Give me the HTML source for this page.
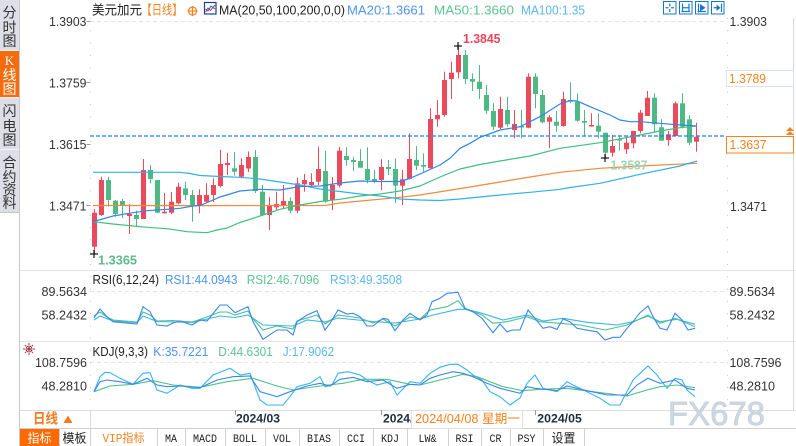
<!DOCTYPE html>
<html><head><meta charset="utf-8"><style>
html,body{margin:0;padding:0;background:#fff;width:796px;height:446px;overflow:hidden}
svg{position:absolute;left:0;top:0}
</style></head><body>
<svg width="796" height="446" viewBox="0 0 796 446" font-family="Liberation Sans, Noto Sans CJK SC, sans-serif">
<rect x="0" y="0" width="796" height="446" fill="#fff"/>
<!-- sidebar -->
<rect x="0" y="0" width="19" height="212" fill="#dedee6"/>
<rect x="0" y="51" width="19" height="46" fill="#f76b0b"/>
<line x1="0" y1="50.5" x2="19" y2="50.5" stroke="#f2f2f6"/>
<line x1="0" y1="97.5" x2="19" y2="97.5" stroke="#f2f2f6"/>
<line x1="0" y1="149.5" x2="19" y2="149.5" stroke="#f2f2f6"/>
<line x1="0" y1="212.5" x2="19" y2="212.5" stroke="#c8c8cc"/>
<line x1="19.5" y1="0" x2="19.5" y2="446" stroke="#c8c8cc"/>
<g font-size="14" fill="#333" text-anchor="middle" font-family="Noto Sans CJK SC, sans-serif">
<text x="9.5" y="17.5">分</text><text x="9.5" y="32.5">时</text><text x="9.5" y="46">图</text>
<text x="9.5" y="65" fill="#fff" font-family="Liberation Serif, serif" font-size="13">K</text><text x="9.5" y="80" fill="#fff">线</text><text x="9.5" y="94" fill="#fff">图</text>
<text x="9.5" y="116">闪</text><text x="9.5" y="131">电</text><text x="9.5" y="145">图</text>
<text x="9.5" y="167.5">合</text><text x="9.5" y="182">约</text><text x="9.5" y="195">资</text><text x="9.5" y="208">料</text>
</g>
<!-- header -->
<g font-size="13">
<text x="92" y="14.5" fill="#222" textLength="50" lengthAdjust="spacingAndGlyphs">美元加元</text>
<text x="141.5" y="14.5" fill="#f5821f" textLength="41" lengthAdjust="spacingAndGlyphs">【日线】</text>
<text x="219" y="14.5" fill="#222" textLength="126" lengthAdjust="spacingAndGlyphs">MA(20,50,100,200,0,0)</text>
<text x="347" y="14.5" fill="#4b95ee" textLength="78" lengthAdjust="spacingAndGlyphs">MA20:1.3661</text>
<text x="434" y="14.5" fill="#5cc493" textLength="80" lengthAdjust="spacingAndGlyphs">MA50:1.3660</text>
<text x="521" y="14.5" fill="#5ab8ec" textLength="64" lengthAdjust="spacingAndGlyphs">MA100:1.35</text>
</g>
<circle cx="192.5" cy="11" r="4" fill="none" stroke="#f5821f" stroke-width="1.2"/>
<line x1="187.5" y1="11" x2="197.5" y2="11" stroke="#f5821f" stroke-width="1.1"/>
<line x1="192.5" y1="6" x2="192.5" y2="16" stroke="#f5821f" stroke-width="1.1"/>
<rect x="204.5" y="2.5" width="11.5" height="11.5" fill="#fff" stroke="#1c3f94" stroke-width="1.2"/>
<polyline points="205.5,12 208,8 210.5,10.5 215,5" fill="none" stroke="#e33" stroke-width="1"/>
<polyline points="205.5,9 208,11 211,6 215,9" fill="none" stroke="#2a5fd0" stroke-width="1"/>
<!-- top right icons -->
<g fill="#fff" stroke="#1976c8" stroke-width="1">
<rect x="663.5" y="1.5" width="12.5" height="12.5"/><rect x="679.5" y="1.5" width="12.5" height="12.5"/>
<rect x="695.5" y="1.5" width="12.5" height="12.5"/><rect x="711.5" y="1.5" width="12.5" height="12.5"/>
</g>
<g stroke="#1976c8" stroke-width="1.2" fill="none">
<line x1="665.5" y1="7.75" x2="668.5" y2="7.75"/><line x1="671" y1="7.75" x2="674" y2="7.75"/>
<line x1="669.75" y1="3.5" x2="669.75" y2="6.5"/><line x1="669.75" y1="9" x2="669.75" y2="12"/>
<line x1="682.5" y1="3.5" x2="682.5" y2="12"/><line x1="689" y1="3.5" x2="689" y2="12"/><line x1="682.5" y1="7.75" x2="689" y2="7.75"/><line x1="681.5" y1="11.5" x2="690" y2="11.5"/>
<line x1="698.5" y1="3.5" x2="698.5" y2="12.5"/><line x1="697.5" y1="11.5" x2="706" y2="11.5"/>
<line x1="721.5" y1="3.5" x2="721.5" y2="12"/><line x1="713.5" y1="7.75" x2="717" y2="7.75"/>
</g>
<polygon points="700,4 705.5,7.75 700,11.5" fill="#1976c8"/>
<polygon points="716.5,4.5 720.5,7.75 716.5,11" fill="#1976c8"/>
<!-- grid / separators -->
<line x1="90" y1="21.5" x2="727" y2="21.5" stroke="#e6e6e6" stroke-dasharray="4,3"/>
<line x1="90" y1="291.5" x2="727" y2="291.5" stroke="#e6e6e6" stroke-dasharray="4,3"/>
<line x1="90" y1="362.5" x2="727" y2="362.5" stroke="#e6e6e6" stroke-dasharray="4,3"/>
<line x1="20" y1="270.5" x2="796" y2="270.5" stroke="#e2e6ea"/>
<line x1="20" y1="341.5" x2="796" y2="341.5" stroke="#e2e6ea"/>
<line x1="90.5" y1="18" x2="90.5" y2="410" stroke="#c4c8cc" stroke-dasharray="1,11.3"/>
<line x1="727.5" y1="18" x2="727.5" y2="410" stroke="#c4c8cc" stroke-dasharray="1,11.3"/>
<line x1="793.5" y1="18" x2="793.5" y2="410" stroke="#d6d9dc"/>
<g stroke="#999"><line x1="86.5" y1="21.5" x2="90.5" y2="21.5"/><line x1="86.5" y1="82.5" x2="90.5" y2="82.5"/><line x1="86.5" y1="144.5" x2="90.5" y2="144.5"/><line x1="86.5" y1="205.5" x2="90.5" y2="205.5"/></g>
<!-- left labels -->
<g font-size="12.5" fill="#333" text-anchor="end">
<text x="86.5" y="26" textLength="37.5" lengthAdjust="spacingAndGlyphs">1.3903</text>
<text x="86.5" y="87.5" textLength="37.5" lengthAdjust="spacingAndGlyphs">1.3759</text>
<text x="86.5" y="149" textLength="37.5" lengthAdjust="spacingAndGlyphs">1.3615</text>
<text x="86.5" y="210.5" textLength="37.5" lengthAdjust="spacingAndGlyphs">1.3471</text>
<text x="87" y="296" textLength="45.5" lengthAdjust="spacingAndGlyphs">89.5634</text>
<text x="87" y="319.5" textLength="45.5" lengthAdjust="spacingAndGlyphs">58.2432</text>
<text x="87" y="367" textLength="52" lengthAdjust="spacingAndGlyphs">108.7596</text>
<text x="87" y="390.5" textLength="45.5" lengthAdjust="spacingAndGlyphs">48.2810</text>
</g>
<!-- right labels -->
<g font-size="12.5" fill="#333">
<text x="729.5" y="26" textLength="37.5" lengthAdjust="spacingAndGlyphs">1.3903</text>
<text x="730" y="211" textLength="37" lengthAdjust="spacingAndGlyphs">1.3471</text>
<text x="729.5" y="296" textLength="45.5" lengthAdjust="spacingAndGlyphs">89.5634</text>
<text x="729.5" y="319.5" textLength="45.5" lengthAdjust="spacingAndGlyphs">58.2432</text>
<text x="729.5" y="367" textLength="52" lengthAdjust="spacingAndGlyphs">108.7596</text>
<text x="729.5" y="390.5" textLength="45.5" lengthAdjust="spacingAndGlyphs">48.2810</text>
</g>
<rect x="726.5" y="70.5" width="67" height="16" fill="#fff" stroke="#dde3ea"/>
<text x="729" y="83" font-size="13" fill="#f5821f" textLength="37" lengthAdjust="spacingAndGlyphs">1.3789</text>
<!-- candles -->
<g fill="#eb4a5c">
<rect x="94" y="209" width="1" height="44.5"/><rect x="92" y="212.7" width="5" height="34"/>
<rect x="101" y="176.7" width="1" height="39.3"/><rect x="99" y="180" width="5" height="35"/>
<rect x="129" y="204.3" width="1" height="29.7"/><rect x="127" y="214" width="5" height="2"/>
<rect x="143" y="159" width="1" height="60"/><rect x="141" y="170" width="5" height="49"/>
<rect x="164" y="193" width="1" height="20.5"/><rect x="162" y="211.7" width="5" height="1.6"/>
<rect x="171" y="192" width="1" height="22"/><rect x="169" y="201.7" width="5" height="11"/>
<rect x="178" y="182.7" width="1" height="21.6"/><rect x="176" y="186.7" width="5" height="16.6"/>
<rect x="199" y="189.3" width="1" height="24"/><rect x="197" y="195" width="5" height="10"/>
<rect x="206" y="183.3" width="1" height="19"/><rect x="204" y="195" width="5" height="6.7"/>
<rect x="213" y="178.3" width="1" height="23.7"/><rect x="211" y="185" width="5" height="10"/>
<rect x="220" y="150" width="1" height="37.5"/><rect x="218" y="164" width="5" height="22"/>
<rect x="227" y="153" width="1" height="22"/><rect x="225" y="163" width="5" height="2"/>
<rect x="241" y="158.3" width="1" height="20"/><rect x="239" y="165" width="5" height="11.7"/>
<rect x="248" y="151.5" width="1" height="20.5"/><rect x="246" y="157" width="5" height="11.5"/>
<rect x="269" y="197.3" width="1" height="32.7"/><rect x="267" y="205" width="5" height="10"/>
<rect x="276" y="191.7" width="1" height="18.3"/><rect x="274" y="204" width="5" height="3.3"/>
<rect x="283" y="185" width="1" height="23.3"/><rect x="281" y="201" width="5" height="4.3"/>
<rect x="297" y="177.7" width="1" height="35.6"/><rect x="295" y="183.3" width="5" height="27.4"/>
<rect x="304" y="174" width="1" height="17.7"/><rect x="302" y="180" width="5" height="4.3"/>
<rect x="311" y="173.3" width="1" height="13.4"/><rect x="309" y="182" width="5" height="3"/>
<rect x="318" y="146.7" width="1" height="38.3"/><rect x="316" y="169" width="5" height="12.7"/>
<rect x="332" y="177" width="1" height="33"/><rect x="330" y="185" width="5" height="15"/>
<rect x="339" y="147" width="1" height="40.5"/><rect x="337" y="150.7" width="5" height="34.8"/>
<rect x="381" y="159.3" width="1" height="30.7"/><rect x="379" y="167" width="5" height="13"/>
<rect x="402" y="170" width="1" height="35"/><rect x="400" y="179.3" width="5" height="6.4"/>
<rect x="409" y="133.3" width="1" height="46.2"/><rect x="407" y="159" width="5" height="19.7"/>
<rect x="430" y="108.3" width="1" height="60"/><rect x="428" y="119" width="5" height="49.3"/>
<rect x="437" y="100" width="1" height="26.7"/><rect x="435" y="115" width="5" height="4.3"/>
<rect x="444" y="71.7" width="1" height="45"/><rect x="442" y="80" width="5" height="35"/>
<rect x="451" y="61.7" width="1" height="37.3"/><rect x="449" y="72.7" width="5" height="6.3"/>
<rect x="458" y="46" width="1" height="32.3"/><rect x="456" y="55" width="5" height="17.3"/>
<rect x="500" y="96.7" width="1" height="32.3"/><rect x="498" y="109" width="5" height="18.7"/>
<rect x="514" y="110" width="1" height="28.3"/><rect x="512" y="124" width="5" height="6"/>
<rect x="528" y="73.3" width="1" height="55"/><rect x="526" y="76.7" width="5" height="51"/>
<rect x="549" y="115" width="1" height="33.3"/><rect x="547" y="117.3" width="5" height="4.4"/>
<rect x="563" y="91.7" width="1" height="35"/><rect x="561" y="99" width="5" height="27"/>
<rect x="591" y="113.3" width="1" height="13.4"/><rect x="589" y="125" width="5" height="1.5"/>
<rect x="612" y="135" width="1" height="21.7"/><rect x="610" y="146" width="5" height="6.7"/>
<rect x="626" y="136.7" width="1" height="17.3"/><rect x="624" y="142.7" width="5" height="6.6"/>
<rect x="633" y="131" width="1" height="17.3"/><rect x="631" y="131" width="5" height="12.3"/>
<rect x="640" y="110" width="1" height="23.3"/><rect x="638" y="112.7" width="5" height="18.3"/>
<rect x="647" y="91" width="1" height="25"/><rect x="645" y="97.7" width="5" height="18.3"/>
<rect x="668" y="131" width="1" height="14.7"/><rect x="666" y="134.3" width="5" height="5.7"/>
<rect x="675" y="101.7" width="1" height="34.3"/><rect x="673" y="103.3" width="5" height="32.7"/>
<rect x="696" y="122.7" width="1" height="29"/><rect x="694" y="136.7" width="5" height="5"/>
</g>
<g fill="#4fb985">
<rect x="108" y="176.7" width="1" height="30"/><rect x="106" y="180" width="5" height="20"/>
<rect x="115" y="200" width="1" height="16.7"/><rect x="113" y="200.7" width="5" height="13.3"/>
<rect x="122" y="199" width="1" height="19"/><rect x="120" y="201" width="5" height="5"/>
<rect x="136" y="210.7" width="1" height="16"/><rect x="134" y="215" width="5" height="4"/>
<rect x="150" y="165" width="1" height="18.3"/><rect x="148" y="170" width="5" height="9"/>
<rect x="157" y="180" width="1" height="33"/><rect x="155" y="180" width="5" height="32.7"/>
<rect x="185" y="181.7" width="1" height="18.3"/><rect x="183" y="188.3" width="5" height="6.7"/>
<rect x="192" y="190" width="1" height="31.7"/><rect x="190" y="195" width="5" height="10"/>
<rect x="234" y="152" width="1" height="23.5"/><rect x="232" y="168.3" width="5" height="3.4"/>
<rect x="255" y="150" width="1" height="43"/><rect x="253" y="157" width="5" height="34"/>
<rect x="262" y="185" width="1" height="31"/><rect x="260" y="191.7" width="5" height="23.3"/>
<rect x="290" y="197.3" width="1" height="16"/><rect x="288" y="201" width="5" height="9.7"/>
<rect x="325" y="150.7" width="1" height="52"/><rect x="323" y="171" width="5" height="30.7"/>
<rect x="346" y="147.3" width="1" height="18.4"/><rect x="344" y="156" width="5" height="4"/>
<rect x="353" y="156.7" width="1" height="14.3"/><rect x="351" y="160" width="5" height="2"/>
<rect x="360" y="149.3" width="1" height="18.4"/><rect x="358" y="161" width="5" height="6.7"/>
<rect x="367" y="147.3" width="1" height="36"/><rect x="365" y="169" width="5" height="11"/>
<rect x="374" y="170" width="1" height="13.3"/><rect x="372" y="179" width="5" height="2"/>
<rect x="388" y="160" width="1" height="15"/><rect x="386" y="167" width="5" height="2"/>
<rect x="395" y="158.3" width="1" height="44.7"/><rect x="393" y="169" width="5" height="16.7"/>
<rect x="416" y="146" width="1" height="24"/><rect x="414" y="160" width="5" height="5.7"/>
<rect x="423" y="153.3" width="1" height="18.4"/><rect x="421" y="165" width="5" height="1.7"/>
<rect x="465" y="50" width="1" height="34"/><rect x="463" y="55" width="5" height="24"/>
<rect x="472" y="73.3" width="1" height="17.7"/><rect x="470" y="79" width="5" height="2.7"/>
<rect x="479" y="65" width="1" height="34"/><rect x="477" y="81.7" width="5" height="7.3"/>
<rect x="486" y="85" width="1" height="29"/><rect x="484" y="95" width="5" height="15.7"/>
<rect x="493" y="103.3" width="1" height="26.7"/><rect x="491" y="111" width="5" height="15.7"/>
<rect x="507" y="96.7" width="1" height="30"/><rect x="505" y="110" width="5" height="14.3"/>
<rect x="521" y="110" width="1" height="28.3"/><rect x="519" y="126" width="5" height="1.5"/>
<rect x="535" y="73.3" width="1" height="35"/><rect x="533" y="76.7" width="5" height="17.3"/>
<rect x="542" y="90" width="1" height="33.3"/><rect x="540" y="95" width="5" height="27.3"/>
<rect x="556" y="111" width="1" height="20.7"/><rect x="554" y="121.7" width="5" height="4"/>
<rect x="570" y="82.3" width="1" height="21"/><rect x="568" y="100" width="5" height="1.7"/>
<rect x="577" y="93.3" width="1" height="28.4"/><rect x="575" y="101.7" width="5" height="19"/>
<rect x="584" y="110" width="1" height="26.7"/><rect x="582" y="121" width="5" height="1.7"/>
<rect x="598" y="113.3" width="1" height="25"/><rect x="596" y="125.7" width="5" height="6"/>
<rect x="605" y="132.7" width="1" height="25.3"/><rect x="603" y="132.7" width="5" height="20"/>
<rect x="619" y="135" width="1" height="15.7"/><rect x="617" y="139" width="5" height="1.5"/>
<rect x="654" y="93.3" width="1" height="38.4"/><rect x="652" y="97.7" width="5" height="26.6"/>
<rect x="661" y="119.3" width="1" height="21.4"/><rect x="659" y="127.3" width="5" height="13.4"/>
<rect x="682" y="93.3" width="1" height="35"/><rect x="680" y="103.3" width="5" height="23.4"/>
<rect x="689" y="115" width="1" height="30"/><rect x="687" y="119.3" width="5" height="23.4"/>
</g>
<!-- MAs -->
<g fill="none" stroke-width="1.2">
<polyline stroke="#f5883a" points="93,205.5 200,205.6 325,205.5 340,203 400,197.3 420,195 470,187 500,182 530,177 560,172.3 600,168.3 640,166 697,163.3"/>
<polyline stroke="#32b0ea" points="93,172.3 180,172.3 190,173.5 200,175.5 220,176.5 240,177.3 260,179 280,182 300,185 320,189 340,191.5 360,194 380,196 400,199 420,200 440,200.5 460,199 500,195 530,192.3 560,189.3 570,187.5 600,183.3 640,174.3 680,166 697,161"/>
<polyline stroke="#40c080" points="93,221.7 113,224 133,226 147,227.3 167,228.7 187,231.7 207,232.7 217,230 227,228 240,222.5 260,216 280,209.3 300,205 320,201.5 340,199.3 360,196 380,194 400,191 420,186 440,177 460,169 480,164.5 500,161 530,156 560,148.3 600,142.7 640,135 660,131 680,127.7 697,126"/>
<polyline stroke="#2f86eb" points="93,221.7 113,216 133,212.7 147,210.7 167,209.3 180,208.3 193,206 200,205.5 220,197 240,191 260,189.3 280,190 300,186.5 320,186 340,183 360,181 380,181.5 400,181.5 410,178.3 420,174 440,165 450,158.3 460,148.3 470,143.3 480,137.3 500,130 520,126.7 540,116.7 560,104 570,100.5 577,101 590,106.7 610,115 620,120 630,121.7 640,121.7 660,123.3 680,125 697,126"/>
</g>
<line x1="90" y1="136" x2="726" y2="136" stroke="#1a7ff5" stroke-width="1.2" stroke-dasharray="4,2"/>
<rect x="726.5" y="136.5" width="67" height="16.5" fill="#fff" stroke="#f5821f"/>
<text x="729.5" y="149" font-size="13" fill="#f5821f" textLength="37" lengthAdjust="spacingAndGlyphs">1.3637</text>
<polygon points="786,131 790,127 794,131" fill="#f5821f"/><polygon points="786,135 790,131 794,135" fill="#f5821f"/>
<!-- markers -->
<g stroke="#111" stroke-width="1.2">
<line x1="454" y1="46" x2="462" y2="46"/><line x1="458" y1="42" x2="458" y2="50"/>
<line x1="90" y1="254" x2="98" y2="254"/><line x1="94" y1="250" x2="94" y2="258"/>
<line x1="601" y1="158" x2="609" y2="158"/><line x1="605" y1="154" x2="605" y2="162"/>
</g>
<text x="463" y="43" font-size="13" font-weight="bold" fill="#e8475a" textLength="37.5" lengthAdjust="spacingAndGlyphs">1.3845</text>
<text x="98" y="264.5" font-size="13" font-weight="bold" fill="#5cb98a" textLength="39" lengthAdjust="spacingAndGlyphs">1.3365</text>
<text x="610.5" y="169.5" font-size="13" font-weight="bold" fill="#9fd3b6" textLength="37" lengthAdjust="spacingAndGlyphs">1.3587</text>
<!-- RSI -->
<g font-size="13">
<text x="92.5" y="284" fill="#222" textLength="66.5" lengthAdjust="spacingAndGlyphs">RSI(6,12,24)</text>
<text x="165" y="284" fill="#4b95ee" textLength="72.5" lengthAdjust="spacingAndGlyphs">RSI1:44.0943</text>
<text x="246.7" y="284" fill="#5cc493" textLength="72.5" lengthAdjust="spacingAndGlyphs">RSI2:46.7096</text>
<text x="330" y="284" fill="#5ab8ec" textLength="72" lengthAdjust="spacingAndGlyphs">RSI3:49.3508</text>
<text x="92.5" y="356" fill="#222" textLength="55.5" lengthAdjust="spacingAndGlyphs">KDJ(9,3,3)</text>
<text x="153.3" y="356" fill="#4b95ee" textLength="55" lengthAdjust="spacingAndGlyphs">K:35.7221</text>
<text x="218.3" y="356" fill="#5cc493" textLength="54.5" lengthAdjust="spacingAndGlyphs">D:44.6301</text>
<text x="282.7" y="356" fill="#5ab8ec" textLength="51.5" lengthAdjust="spacingAndGlyphs">J:17.9062</text>
</g>
<g fill="none" stroke-width="1.1">
<polyline stroke="#38b4ec" points="94,320 100,316 113,321 137,322.5 143,316 157,321.5 192,322.5 220,316 235,317.5 248,315 263,325 293,326 307,320 325,322 338,318 373,321.5 395,323 420,319 433,315 458,309.3 467,309.3 482,313.3 503,320 527,315 543,321 563,318.3 587,322.3 617,325 633,321.7 648,316 660,321.7 677,319.3 695,324.3"/>
<polyline stroke="#4cc287" points="94,316 100,312 107,317 113,320 137,322 143,312 150,315 157,321 173,320.5 192,322 200,319.5 220,312 227,312 235,315 248,311 253,319 263,330 277,326 293,329 297,321 317,315 325,324 338,315 360,318 373,323 383,319 395,326 410,317 420,319 430,310 447,306.7 458,300.7 465,309 482,315 493,323.3 507,321.7 527,316.7 540,321.7 560,323.3 580,325 605,330 627,325 648,315 660,323.3 675,318.3 695,326.7"/>
<polyline stroke="#3a86f0" points="94,318 100,309 107,316.7 113,321.7 137,324 143,306.7 150,311.7 157,325 167,326 173,323 180,321 192,325 200,320 207,321 220,305 227,305 235,312.7 248,306.7 253,321.7 263,339.3 272,333.3 277,330 287,330 293,335 297,321.7 307,315 317,310.7 325,330 330,323.3 338,310 347,314 353,313.3 360,316.7 367,326 373,326 383,318.3 388,319.3 395,330.7 403,320 410,313.3 420,320 427,315 432,301.7 440,298.3 447,293.3 458,292.3 465,308.3 473,311.7 482,318.3 493,332.7 500,324 507,331.7 513,330 520,330 528,310 535,318.3 543,328.3 550,326.7 557,329.3 563,319 570,321.7 577,328.3 590,330.7 597,331.7 605,340 613,337.3 620,337.3 627,328.3 633,321.7 640,312.7 648,306 653,316.7 660,328.3 667,330 675,313.3 682,320 688,330 695,328.3"/>
<polyline stroke="#38b4ec" points="94,391.7 100,376.7 105,372.3 110,372.7 120,378.3 133,384.3 143,373.3 150,372.7 157,390 167,393.3 180,385 192,388.3 200,388.3 213,375 230,368.3 240,375 250,373.3 260,400 267,405 283,405 290,396.7 297,386.7 310,383.3 320,376.7 325,386.7 332,385 338,373.3 348,371.7 360,375 367,380 377,385 390,381.7 397,395 410,381.7 420,383.3 430,373.3 440,367.3 450,364.3 458,364.3 467,370 473,375 482,380 490,391.7 500,396.7 510,405 520,398 527,383.3 535,375 543,388.3 557,391.7 567,381.7 573,385 587,391.7 600,398.3 610,405 620,405 633,380 640,373.3 648,366 657,375 667,388.3 675,378.3 682,380 687,390 695,396.7"/>
<polyline stroke="#4cc287" points="94,391.7 110,386 133,384.3 153,380.7 173,385 200,387.3 227,381.7 253,378.3 277,386 293,390 320,386 343,383.3 363,379.3 387,379.3 410,384.3 420,385 440,380 463,374.3 477,376.7 503,386.7 523,390.7 540,389.3 567,388.3 593,391.7 627,396 647,390 660,386.7 677,385 695,387.7"/>
<polyline stroke="#3a86f0" points="94,391.7 100,381.7 107,380 120,381.7 133,384.3 147,378.3 157,385 167,386.7 180,386 200,387.7 217,380 233,376.7 250,376 260,391.7 277,396.7 290,391.7 307,386 320,383.3 330,386 340,379.3 353,377.3 367,381.7 383,380 397,388.3 410,384.3 420,385 430,378.3 440,375 453,371.7 463,373.3 473,376.7 487,383.3 500,388.3 520,393.3 527,386.7 535,388.3 557,390.7 567,386 587,390.7 607,395 627,395 637,385 648,378.3 660,383.3 675,380 687,388.3 695,390"/>
</g>
<!-- KDJ icon -->
<g stroke="#e02020" stroke-width="1">
<line x1="29" y1="343" x2="29" y2="345"/><line x1="29" y1="353" x2="29" y2="355"/>
<line x1="23" y1="349" x2="25" y2="349"/><line x1="33" y1="349" x2="35" y2="349"/>
<line x1="25" y1="345" x2="26.2" y2="346.2"/><line x1="31.8" y1="351.8" x2="33" y2="353"/>
<line x1="33" y1="345" x2="31.8" y2="346.2"/><line x1="26.2" y1="351.8" x2="25" y2="353"/>
</g>
<circle cx="29" cy="349" r="3" fill="#fff" stroke="#222" stroke-width="0.8"/>
<circle cx="29" cy="349" r="1.8" fill="#e02020"/>
<!-- date row -->
<line x1="20" y1="410.5" x2="796" y2="410.5" stroke="#dcdcdc"/>
<line x1="20" y1="428.5" x2="796" y2="428.5" stroke="#d0d0d0"/>
<line x1="90.5" y1="410" x2="90.5" y2="429" stroke="#dcdcdc"/>
<text x="33" y="423.5" font-size="14" font-weight="bold" fill="#f57a1c" textLength="25" lengthAdjust="spacingAndGlyphs" font-family="Noto Sans CJK SC, sans-serif">日线</text>
<polygon points="63.5,423 68,415.5 72.5,423" fill="#f57a1c"/>
<g stroke="#999"><line x1="235.5" y1="410" x2="235.5" y2="415"/><line x1="381.5" y1="410" x2="381.5" y2="415"/><line x1="535.5" y1="410" x2="535.5" y2="415"/></g>
<g font-size="12" font-weight="bold" fill="#1f2d3d">
<text x="236" y="422.5" textLength="44" lengthAdjust="spacingAndGlyphs">2024/03</text>
<text x="383" y="422.5" textLength="44" lengthAdjust="spacingAndGlyphs">2024/04</text>
<text x="537.3" y="422.5" textLength="44.5" lengthAdjust="spacingAndGlyphs">2024/05</text>
</g>
<rect x="411.5" y="410.5" width="111" height="18" fill="#fff" stroke="#e0e0e0"/>
<text x="415" y="423" font-size="12.5" fill="#f5821f" textLength="105" lengthAdjust="spacingAndGlyphs">2024/04/08 星期一</text>
<!-- watermark -->
<text x="668" y="425" font-size="33" fill="#cfd8e2" stroke="#c2cdd9" stroke-width="0.7" textLength="97" lengthAdjust="spacingAndGlyphs">FX678</text>
<!-- tab bar -->
<rect x="20" y="429" width="39" height="17" fill="#ff6a00"/>
<g stroke="#d0d0d0">
<line x1="59.5" y1="429" x2="59.5" y2="446"/><line x1="90.5" y1="429" x2="90.5" y2="446"/>
<line x1="157.5" y1="429" x2="157.5" y2="446"/><line x1="185.5" y1="429" x2="185.5" y2="446"/>
<line x1="225.5" y1="429" x2="225.5" y2="446"/><line x1="265.5" y1="429" x2="265.5" y2="446"/>
<line x1="299.5" y1="429" x2="299.5" y2="446"/><line x1="339.5" y1="429" x2="339.5" y2="446"/>
<line x1="373.5" y1="429" x2="373.5" y2="446"/><line x1="407.5" y1="429" x2="407.5" y2="446"/>
<line x1="448.5" y1="429" x2="448.5" y2="446"/><line x1="481.5" y1="429" x2="481.5" y2="446"/>
<line x1="510.5" y1="429" x2="510.5" y2="446"/><line x1="543.5" y1="429" x2="543.5" y2="446"/>
<line x1="584.5" y1="429" x2="584.5" y2="446"/>
</g>
<g font-size="12.5" text-anchor="middle" fill="#222" font-family="Noto Sans CJK SC, sans-serif">
<text x="39.5" y="442.5" fill="#fff" textLength="24" lengthAdjust="spacingAndGlyphs">指标</text>
<text x="74.5" y="442.5" textLength="24" lengthAdjust="spacingAndGlyphs">模板</text>
<text x="563.5" y="442.5" textLength="24" lengthAdjust="spacingAndGlyphs">设置</text>
</g>
<text x="123.5" y="442" font-size="12" text-anchor="middle" fill="#f5821f" font-family="Liberation Mono, Noto Sans CJK SC, monospace" textLength="42" lengthAdjust="spacingAndGlyphs">VIP指标</text>
<g font-size="11" text-anchor="middle" fill="#222" font-family="Liberation Mono, monospace">
<text x="171" y="442" textLength="12" lengthAdjust="spacingAndGlyphs">MA</text>
<text x="205" y="442" textLength="24" lengthAdjust="spacingAndGlyphs">MACD</text>
<text x="245" y="442" textLength="24" lengthAdjust="spacingAndGlyphs">BOLL</text>
<text x="282" y="442" textLength="18" lengthAdjust="spacingAndGlyphs">VOL</text>
<text x="319" y="442" textLength="24" lengthAdjust="spacingAndGlyphs">BIAS</text>
<text x="356" y="442" textLength="18" lengthAdjust="spacingAndGlyphs">CCI</text>
<text x="390" y="442" textLength="18" lengthAdjust="spacingAndGlyphs">KDJ</text>
<text x="427.5" y="442" textLength="18" lengthAdjust="spacingAndGlyphs">LW&amp;</text>
<text x="464.5" y="442" textLength="18" lengthAdjust="spacingAndGlyphs">RSI</text>
<text x="495.5" y="442" textLength="12" lengthAdjust="spacingAndGlyphs">CR</text>
<text x="526.5" y="442" textLength="18" lengthAdjust="spacingAndGlyphs">PSY</text>
</g>
</svg>
</body></html>
